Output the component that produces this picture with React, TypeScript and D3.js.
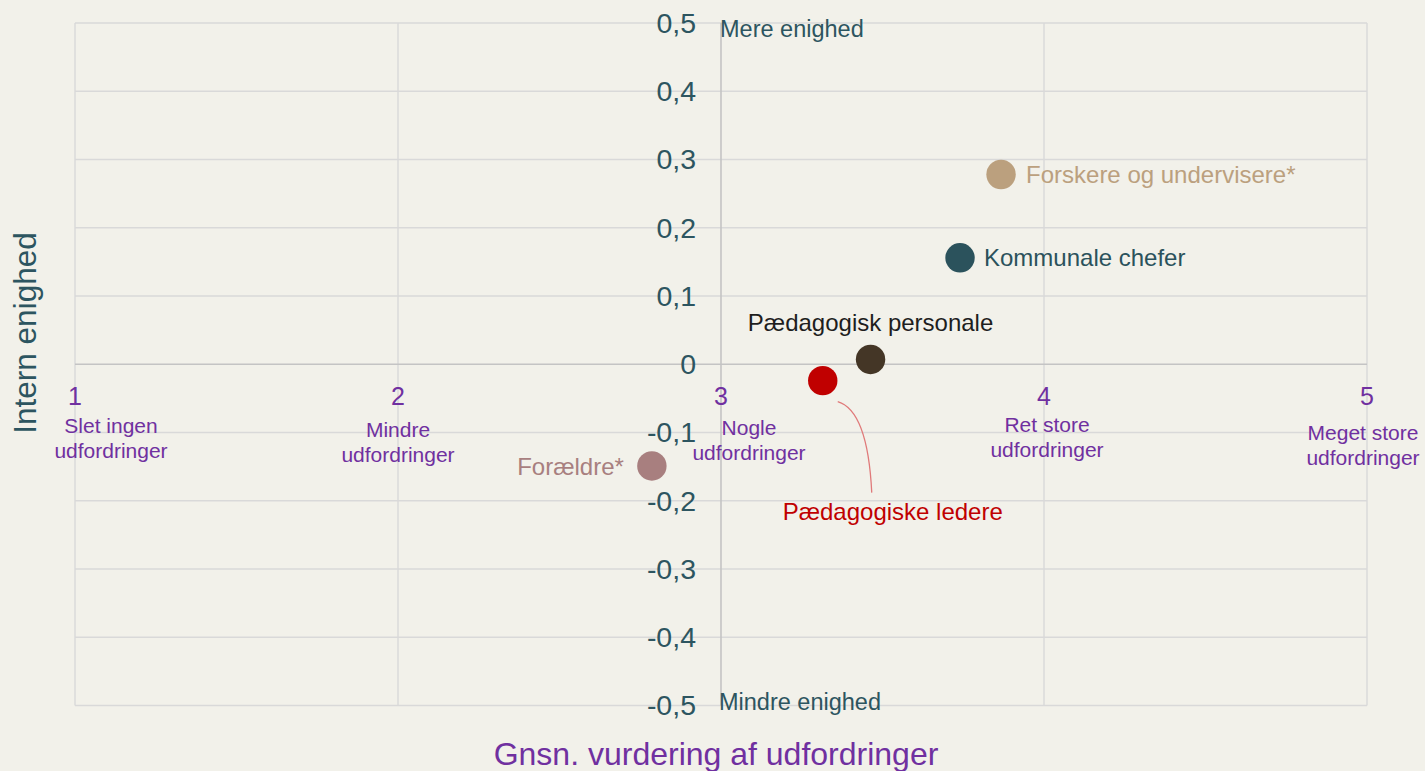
import React, { useEffect, useRef } from 'react';
import * as d3 from 'd3';

// Groups, with mean challenge rating (x) and internal agreement (y)
const groups = ['Forskere og undervisere*', 'Kommunale chefer', 'Pædagogisk personale', 'Pædagogiske ledere', 'Forældre*'];
const challengeScores = [3.867, 3.74, 3.463, 3.315, 2.786];
const agreementScores = [0.278, 0.156, 0.007, -0.024, -0.149];
const groupColors = ['#bba07e', '#2b525c', '#443626', '#c00000', '#a87f7f'];

// x ticks and their verbal labels
const xTicks = [1, 2, 3, 4, 5];
const xTickNames = [
    ['Slet ingen', 'udfordringer'],
    ['Mindre', 'udfordringer'],
    ['Nogle', 'udfordringer'],
    ['Ret store', 'udfordringer'],
    ['Meget store', 'udfordringer'],
];
const yTicks = [0.5, 0.4, 0.3, 0.2, 0.1, 0, -0.1, -0.2, -0.3, -0.4, -0.5];

const W = 1425;
const H = 771;
const FONT = '"Liberation Sans", Arial, sans-serif';
const TEAL = '#2d5560';
const PURPLE = '#7030a0';

// label placement (offsets from the point / tick), styling only
const xNameOffset = [[36, 69], [0, 73], [28, 71], [3, 68], [-4, 76]];
const pointLabelPos = [
    { dx: 25, dy: 8, anchor: 'start' },
    { dx: 24, dy: 8, anchor: 'start' },
    { dx: 0, dy: -28, anchor: 'middle' },
    { dx: 70, dy: 139, anchor: 'middle' },
    { dx: -28, dy: 9, anchor: 'end' },
];
const pointLabelColors = ['#bba07e', '#2b525c', '#1e1e1e', '#c00000', '#a87f7f'];

const App = () => {
    const ref = useRef(null);

    useEffect(() => {
        const svg = d3.select(ref.current);
        svg.selectAll('*').remove();

        const x = d3.scaleLinear().domain([1, 5]).range([75, 1367]);
        const y = d3.scaleLinear().domain([-0.5, 0.5]).range([705.5, 23]);

        const locale = d3.formatLocale({ decimal: ',', thousands: '.', grouping: [3], currency: ['', ''], minus: '-' });
        const fmt = locale.format('.1f');

        svg.append('rect').attr('width', W).attr('height', H).attr('fill', '#f2f1ea');

        // grid
        svg.append('g').selectAll('line').data(yTicks.filter(d => d !== 0)).enter().append('line')
            .attr('x1', x(1)).attr('x2', x(5))
            .attr('y1', d => y(d)).attr('y2', d => y(d))
            .attr('stroke', '#d9d9d9').attr('stroke-width', 1.4);
        svg.append('g').selectAll('line').data(xTicks.filter(d => d !== 3)).enter().append('line')
            .attr('x1', d => x(d)).attr('x2', d => x(d))
            .attr('y1', y(0.5)).attr('y2', y(-0.5))
            .attr('stroke', '#d9d9d9').attr('stroke-width', 1.4);

        // axes crossing at (3, 0)
        svg.append('line').attr('x1', x(1)).attr('x2', x(5)).attr('y1', y(0)).attr('y2', y(0))
            .attr('stroke', '#c4c4c4').attr('stroke-width', 1.6);
        svg.append('line').attr('x1', x(3)).attr('x2', x(3)).attr('y1', y(0.5)).attr('y2', y(-0.5))
            .attr('stroke', '#c4c4c4').attr('stroke-width', 1.6);

        // y tick labels
        svg.append('g').selectAll('text').data(yTicks).enter().append('text')
            .attr('x', x(3) - 25).attr('y', d => y(d)).attr('dy', '0.35em')
            .attr('text-anchor', 'end')
            .style('font', `28.5px ${FONT}`).attr('fill', TEAL)
            .text(d => (d === 0 ? '0' : fmt(d)));

        svg.append('text').attr('x', x(3) - 1).attr('y', y(0.5) + 14)
            .style('font', `23.5px ${FONT}`).attr('fill', TEAL).text('Mere enighed');
        svg.append('text').attr('x', x(3) - 2).attr('y', y(-0.5) + 4)
            .style('font', `23.5px ${FONT}`).attr('fill', TEAL).text('Mindre enighed');

        // x tick labels
        svg.append('g').selectAll('text').data(xTicks).enter().append('text')
            .attr('x', d => x(d)).attr('y', y(0) + 41)
            .attr('text-anchor', 'middle')
            .style('font', `25px ${FONT}`).attr('fill', PURPLE)
            .text(d => d);

        const names = svg.append('g').selectAll('text').data(xTicks).enter().append('text')
            .attr('text-anchor', 'middle')
            .style('font', `21px ${FONT}`).attr('fill', PURPLE);
        names.each(function (d, i) {
            const t = d3.select(this);
            xTickNames[i].forEach((line, j) => {
                t.append('tspan')
                    .attr('x', x(d) + xNameOffset[i][0])
                    .attr('y', y(0) + xNameOffset[i][1] + j * 25)
                    .text(line);
            });
        });

        // axis titles
        svg.append('text')
            .attr('transform', `translate(36, ${333}) rotate(-90)`)
            .attr('text-anchor', 'middle')
            .style('font', `31.5px ${FONT}`).attr('fill', TEAL)
            .text('Intern enighed');
        svg.append('text').attr('x', 716).attr('y', 765)
            .attr('text-anchor', 'middle')
            .style('font', `32px ${FONT}`).attr('fill', PURPLE)
            .text('Gnsn. vurdering af udfordringer');

        // leader line for Pædagogiske ledere
        const li = 3;
        const lx = x(challengeScores[li]);
        const ly = y(agreementScores[li]);
        svg.append('path')
            .attr('d', `M${lx + 15},${ly + 21} Q${lx + 45},${ly + 30} ${lx + 49},${ly + 112}`)
            .attr('fill', 'none').attr('stroke', '#e07a7a').attr('stroke-width', 1.3);

        // points
        svg.append('g').selectAll('circle').data(groups).enter().append('circle')
            .attr('cx', (d, i) => x(challengeScores[i]))
            .attr('cy', (d, i) => y(agreementScores[i]))
            .attr('r', 14.7)
            .attr('fill', (d, i) => groupColors[i]);

        svg.append('g').selectAll('text').data(groups).enter().append('text')
            .attr('x', (d, i) => x(challengeScores[i]) + pointLabelPos[i].dx)
            .attr('y', (d, i) => y(agreementScores[i]) + pointLabelPos[i].dy)
            .attr('text-anchor', (d, i) => pointLabelPos[i].anchor)
            .style('font', `24px ${FONT}`)
            .attr('fill', (d, i) => pointLabelColors[i])
            .text(d => d);
    }, []);

    return (
        <svg ref={ref} width={W} height={H} style={{ position: 'absolute', left: 0, top: 0, display: 'block' }}></svg>
    );
};

export default App;
